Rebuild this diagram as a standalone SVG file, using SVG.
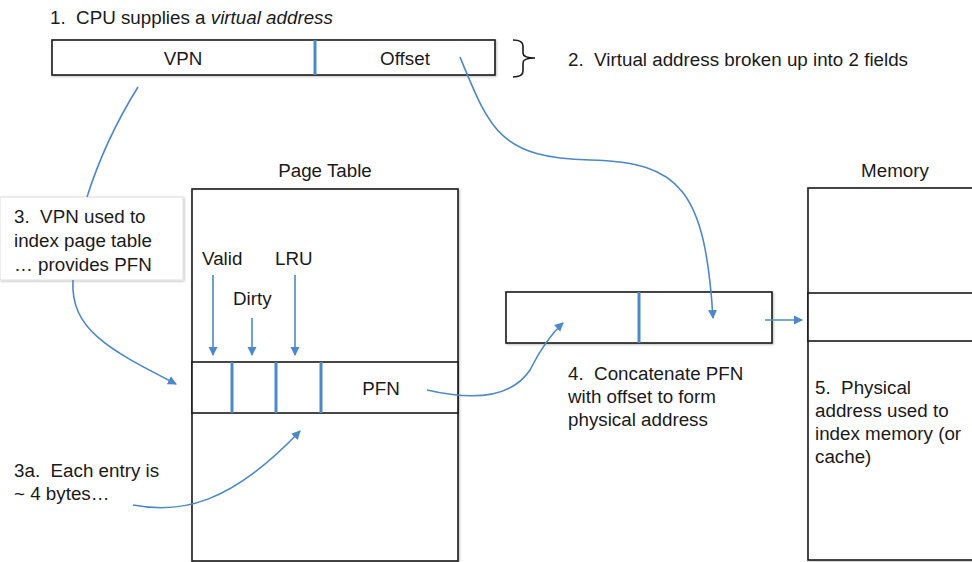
<svg xmlns="http://www.w3.org/2000/svg" width="972" height="562" viewBox="0 0 972 562">
<defs>
<style>
text{font-family:"Liberation Sans",Arial,sans-serif;font-size:18.8px;fill:#1a1a1a}
.box{fill:#fff;stroke:#1a1a1a;stroke-width:1.6}
.div{stroke:#4d88c8;stroke-width:3}
.con{fill:none;stroke:#4d88c8;stroke-width:1.6}
.mid{text-anchor:middle}
</style>
<marker id="ah" markerWidth="10" markerHeight="10" refX="8" refY="5" orient="auto" markerUnits="userSpaceOnUse">
<path d="M0,0.5 L9,5 L0,9.5 Z" fill="#4d88c8"/>
</marker>
<filter id="sh" x="-10%" y="-10%" width="130%" height="130%">
<feDropShadow dx="1" dy="1" stdDeviation="1" flood-color="#000" flood-opacity="0.25"/>
</filter>
</defs>
<rect width="972" height="562" fill="#fff"/>

<g id="title1"><text x="50" y="24">1. &#160;CPU supplies a <tspan font-style="italic">virtual address</tspan></text></g>

<g id="vaddr">
<rect class="box" x="52" y="40" width="443" height="35" filter="url(#sh)"/>
<line class="div" x1="315" y1="40" x2="315" y2="75"/>
<text class="mid" x="183" y="65">VPN</text>
<text class="mid" x="405" y="65">Offset</text>
</g>

<g id="brace">
<path d="M513,40 Q523,40 523,46 L523,53 Q523,58 535,58 Q523,58 523,63 L523,71 Q523,77 513,77" fill="none" stroke="#1a1a1a" stroke-width="1.6"/>
<text x="568" y="66">2. &#160;Virtual address broken up into 2 fields</text>
</g>

<g id="step3">
<rect x="0" y="197" width="183" height="83" fill="#fff" stroke="#ddd" stroke-width="1" filter="url(#sh)"/>
<text x="14" y="223">3. &#160;VPN used to</text>
<text x="14" y="247">index page table</text>
<text x="14" y="271">… provides PFN</text>
</g>

<g id="pagetable">
<text class="mid" x="325" y="177">Page Table</text>
<rect class="box" x="192" y="189" width="266" height="372" filter="url(#sh)"/>
<rect class="box" x="192" y="362" width="266" height="51"/>
<line class="div" x1="232" y1="362" x2="232" y2="413"/>
<line class="div" x1="276" y1="362" x2="276" y2="413"/>
<line class="div" x1="321" y1="362" x2="321" y2="413"/>
<text class="mid" x="381" y="395">PFN</text>
<text x="202" y="265">Valid</text>
<text x="233" y="305">Dirty</text>
<text x="275" y="265">LRU</text>
</g>

<g id="physaddr">
<rect class="box" x="506" y="292" width="266" height="51" filter="url(#sh)"/>
<line class="div" x1="639" y1="292" x2="639" y2="343"/>
</g>

<g id="step4">
<text x="568" y="380">4. &#160;Concatenate PFN</text>
<text x="568" y="403">with offset to form</text>
<text x="568" y="426">physical address</text>
</g>

<g id="memory">
<text class="mid" x="895" y="177">Memory</text>
<rect class="box" x="808" y="188" width="180" height="372" filter="url(#sh)"/>
<rect class="box" x="808" y="293" width="180" height="48"/>
<text x="815" y="394">5. &#160;Physical</text>
<text x="815" y="417">address used to</text>
<text x="815" y="440">index memory (or</text>
<text x="815" y="463">cache)</text>
</g>

<g id="step3a">
<text x="14" y="477">3a. &#160;Each entry is</text>
<text x="14" y="500">~ 4 bytes…</text>
</g>

<g id="connectors">
<path class="con" d="M138,87 Q105,140 87,197"/>
<path class="con" d="M73,280 C70,330 110,350 176,384" marker-end="url(#ah)"/>
<path class="con" d="M213,275 L213,355" marker-end="url(#ah)"/>
<path class="con" d="M252,318 L252,355" marker-end="url(#ah)"/>
<path class="con" d="M295,275 L295,355" marker-end="url(#ah)"/>
<path class="con" d="M133,505 C180,514 230,505 300,431" marker-end="url(#ah)"/>
<path class="con" d="M427,390 C470,400 510,400 530,370 C540,350 550,335 563,323" marker-end="url(#ah)"/>
<path class="con" d="M460,57 C490,130 500,158 590,160 C680,162 705,190 713,318" marker-end="url(#ah)"/>
<path class="con" d="M765,320 L802,320" marker-end="url(#ah)"/>
</g>
</svg>
